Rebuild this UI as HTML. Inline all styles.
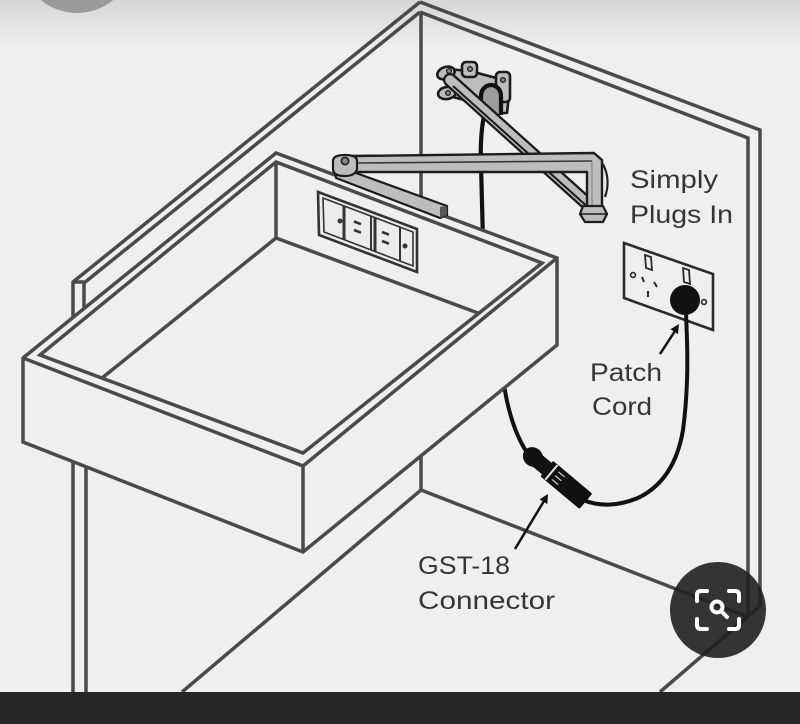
<!DOCTYPE html>
<html>
<head>
<meta charset="utf-8">
<style>
  html, body { margin: 0; padding: 0; background: #efefef; }
  body { width: 800px; height: 724px; overflow: hidden; }
  svg { display: block; }
  .lbl { font-family: "Liberation Sans", "DejaVu Sans", sans-serif; font-size: 25px; fill: #353535; }
</style>
</head>
<body>
<svg width="800" height="724" viewBox="0 0 800 724" xmlns="http://www.w3.org/2000/svg">
  <defs>
    <linearGradient id="topg" x1="0" y1="0" x2="0" y2="1">
      <stop offset="0" stop-color="#d6d6d6"/>
      <stop offset="1" stop-color="#efefef"/>
    </linearGradient>
  </defs>

  <!-- background -->
  <rect x="0" y="0" width="800" height="724" fill="#efefef"/>
  <rect x="0" y="0" width="800" height="48" fill="url(#topg)"/>
  <circle cx="77" cy="-44" r="57" fill="#9a9a9a"/>

  <!-- cabinet lines -->
  <g stroke="#4a4a4a" stroke-width="3.5" fill="none" stroke-linejoin="miter">
    <polyline points="420,2 73,282 73,692"/>
    <polyline points="420,12 84,283"/>
    <line x1="73" y1="282" x2="84" y2="282"/>
    <line x1="84" y1="282" x2="84" y2="330"/>
    <line x1="86" y1="440" x2="86" y2="692"/>
    <polyline points="420,2 760,130 760,606 660,692"/>
    <polyline points="420,12 748,138 748,617"/>
    <line x1="421" y1="12" x2="421" y2="490"/>
    <polyline points="182,692 421,490 748,617"/>
  </g>

  <!-- cable from wall bracket (behind tray) -->
  <path d="M488,100 C482,118 480,140 481,165 L483,240" stroke="#111" stroke-width="4.2" fill="none"/>

  <!-- patch cord upper part -->
  <path d="M503,378 C507,408 515,435 528,454" stroke="#111" stroke-width="4" fill="none"/>

  <!-- wall bracket -->
  <g stroke="#1a1a1a" stroke-width="2.6" fill="#bdbdbd" stroke-linejoin="round">
    <polygon points="447,69 470,71 500,79 509,95 507,113 489,113 468,101 449,96"/>
    <ellipse cx="446" cy="73" rx="9" ry="6" transform="rotate(-20 446 73)"/>
    <ellipse cx="447" cy="93" rx="9" ry="6" transform="rotate(-10 447 93)"/>
    <rect x="462" y="62" width="15" height="15" rx="4"/>
    <rect x="496" y="72" width="14" height="30" rx="4"/>
  </g>
  <g fill="#8a8a8a" stroke="#1a1a1a" stroke-width="1.3">
    <circle cx="449" cy="71" r="2.4"/>
    <circle cx="448" cy="93" r="2.4"/>
    <circle cx="470" cy="69" r="2.4"/>
    <circle cx="503" cy="80" r="2.4"/>
  </g>
  <path d="M481,115 L481,96 A10,11 0 0 1 501,96 L501,115" stroke="#111" stroke-width="4.2" fill="#9c9c9c"/>

  <!-- diagonal arm -->
  <line x1="450" y1="80" x2="590" y2="206" stroke="#1a1a1a" stroke-width="14" stroke-linecap="round"/>
  <line x1="450" y1="80" x2="590" y2="206" stroke="#bdbdbd" stroke-width="9.5" stroke-linecap="round"/>
  <line x1="453" y1="86" x2="590" y2="209" stroke="#1a1a1a" stroke-width="2"/>
  <line x1="540" y1="157" x2="552" y2="168" stroke="#eeeeee" stroke-width="2"/>

  <!-- tray fill -->
  <path d="M23,358 L276,153 L557,258 L557,345 L303,552 L23,442 Z" fill="#efefef"/>

  <!-- tray lines -->
  <g stroke="#4a4a4a" stroke-width="3.5" fill="none" stroke-linejoin="miter">
    <path d="M23,442 L23,358 L276,153 L557,258 L557,345 L303,552 Z"/>
    <polyline points="23,358 303,466 557,258"/>
    <line x1="303" y1="466" x2="303" y2="552"/>
    <path d="M40,355 L276,162 L542,263 L303,453 Z"/>
    <line x1="276" y1="162" x2="276" y2="238"/>
    <polyline points="102,378 276,238 478,313"/>
  </g>

  <!-- tray outlet -->
  <g stroke="#333" fill="none">
    <polygon points="318,192 417,229 417,272 319,235" stroke-width="2.6" fill="#ececec"/>
    <polygon points="323,198 413,232 413,266 324,232" stroke-width="1.6"/>
    <line x1="344" y1="206" x2="344" y2="240" stroke-width="3"/>
    <line x1="371" y1="216" x2="371" y2="250" stroke-width="2"/>
    <line x1="375" y1="218" x2="375" y2="252" stroke-width="3"/>
    <line x1="400" y1="227" x2="400" y2="261" stroke-width="2"/>
    <line x1="354" y1="221.5" x2="361" y2="224.2" stroke-width="2.6"/>
    <line x1="354" y1="230" x2="361" y2="232.7" stroke-width="2.6"/>
    <line x1="382" y1="232" x2="389" y2="234.7" stroke-width="2.6"/>
    <line x1="382" y1="241" x2="389" y2="243.7" stroke-width="2.6"/>
    <circle cx="340" cy="221" r="2" fill="#333" stroke-width="1"/>
    <circle cx="405" cy="246" r="2" fill="#333" stroke-width="1"/>
  </g>

  <!-- bracket bar on tray -->
  <polygon points="334,165 447,206 447,215 440,218 336,178" fill="#bdbdbd" stroke="#1c1c1c" stroke-width="2.2" stroke-linejoin="round"/>
  <polygon points="440,207 447,206 447,215 440,218" fill="#555"/>

  <!-- horizontal arm -->
  <path d="M352,156 L594,153 L602,160 L602,210 L587,210 L587,172 L352,172 Z" fill="#bdbdbd" stroke="#1c1c1c" stroke-width="2.4" stroke-linejoin="round"/>
  <line x1="356" y1="163" x2="592" y2="161" stroke="#3a3a3a" stroke-width="1.6"/>
  <line x1="592" y1="161" x2="592" y2="208" stroke="#7a7a7a" stroke-width="1"/>
  <path d="M603,164 Q611,180 605,197" stroke="#222" stroke-width="2.2" fill="none"/>
  <path d="M583,206 L603,206 L607,214 L603,222 L585,222 L580,214 Z" fill="#bdbdbd" stroke="#1c1c1c" stroke-width="2.2" stroke-linejoin="round"/>
  <line x1="581" y1="214" x2="606" y2="214" stroke="#1c1c1c" stroke-width="1.6"/>

  <!-- pivot -->
  <path d="M333,161 Q333,155 345,155 Q357,155 357,161 L357,169 Q355,176 345,176 Q333,176 333,169 Z" fill="#bdbdbd" stroke="#1c1c1c" stroke-width="2.2"/>
  <circle cx="345" cy="161" r="3.6" fill="#8a8a8a" stroke="#1c1c1c" stroke-width="1.6"/>

  <!-- cabinet wall outlet -->
  <g stroke="#2a2a2a" fill="none">
    <polygon points="624,243 713,274 713,330 624,298" stroke-width="2.6"/>
    <polygon points="645,255 651,257 652,270 646,268" stroke-width="1.8"/>
    <polygon points="683,268 689,270 690,284 684,282" stroke-width="1.8"/>
    <circle cx="633" cy="275" r="2.4" stroke-width="1.6"/>
    <circle cx="704" cy="302" r="2.4" stroke-width="1.6"/>
    <line x1="642" y1="277" x2="644" y2="282" stroke-width="2"/>
    <line x1="654" y1="282" x2="657" y2="287" stroke-width="2"/>
    <line x1="648" y1="291" x2="648" y2="297" stroke-width="2"/>
  </g>
  <circle cx="685" cy="300" r="15" fill="#111"/>

  <!-- patch cord lower -->
  <path d="M583,500 C600,507 620,506 640,497 C665,484 678,460 683,430 C687,400 688,372 687,340 L686,312" stroke="#111" stroke-width="4" fill="none"/>

  <!-- GST-18 connector -->
  <g transform="translate(533,457) rotate(40)">
    <ellipse cx="0" cy="0" rx="10.5" ry="9.5" fill="#111"/>
    <rect x="4" y="-7.5" width="18" height="15" fill="#111"/>
    <rect x="18" y="-10" width="51" height="20" rx="1.5" fill="#111"/>
    <line x1="24" y1="-9.5" x2="24" y2="9.5" stroke="#e6e6e6" stroke-width="2"/>
    <line x1="29" y1="-5" x2="37" y2="-5" stroke="#cfcfcf" stroke-width="1.2"/>
    <line x1="29" y1="0" x2="37" y2="0" stroke="#cfcfcf" stroke-width="1.2"/>
    <line x1="29" y1="5" x2="37" y2="5" stroke="#cfcfcf" stroke-width="1.2"/>
  </g>

  <!-- arrows -->
  <line x1="660" y1="354" x2="675" y2="331" stroke="#111" stroke-width="2.5"/>
  <polygon points="679,324 678,334.1 670.4,329.3" fill="#111"/>
  <line x1="515" y1="549" x2="544" y2="501" stroke="#111" stroke-width="2.5"/>
  <polygon points="548,494 547.3,504 539.5,499.4" fill="#111"/>

  <!-- labels -->
  <text class="lbl" x="630" y="188" textLength="88" lengthAdjust="spacingAndGlyphs">Simply</text>
  <text class="lbl" x="630" y="223" textLength="103" lengthAdjust="spacingAndGlyphs">Plugs In</text>
  <text class="lbl" x="590" y="381" textLength="72" lengthAdjust="spacingAndGlyphs">Patch</text>
  <text class="lbl" x="592" y="415" textLength="60" lengthAdjust="spacingAndGlyphs">Cord</text>
  <text class="lbl" x="418" y="574" textLength="92" lengthAdjust="spacingAndGlyphs">GST-18</text>
  <text class="lbl" x="418" y="609" textLength="137" lengthAdjust="spacingAndGlyphs">Connector</text>

  <!-- search overlay button -->
  <circle cx="718" cy="610" r="48" fill="#1f1f1f" fill-opacity="0.9"/>
  <g stroke="#ffffff" stroke-width="4" fill="none" stroke-linecap="round" stroke-linejoin="round">
    <path d="M697,601 L697,595 Q697,591 701,591 L707,591"/>
    <path d="M729,591 L735,591 Q739,591 739,595 L739,601"/>
    <path d="M697,619 L697,625 Q697,629 701,629 L707,629"/>
    <path d="M739,619 L739,625 Q739,629 735,629 L729,629"/>
    <circle cx="717" cy="607" r="5.5"/>
    <line x1="721.5" y1="611.5" x2="727" y2="617"/>
  </g>

  <!-- bottom bar -->
  <rect x="0" y="692" width="800" height="32" fill="#262626"/>
</svg>
</body>
</html>
